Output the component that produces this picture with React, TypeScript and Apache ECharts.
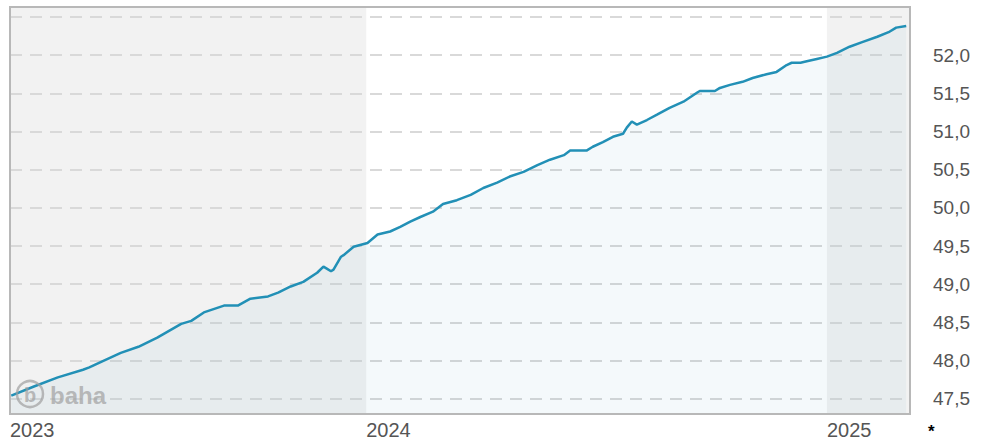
import React, { useEffect, useRef } from "react";
import * as echarts from "echarts";

const dates: string[] = [
  "2023-03-25", "2023-04-12", "2023-05-01", "2023-05-21", "2023-05-26", "2023-06-04",
  "2023-06-20", "2023-07-04", "2023-07-19", "2023-08-07", "2023-08-15", "2023-08-25",
  "2023-09-10", "2023-09-21", "2023-10-01", "2023-10-15", "2023-10-23", "2023-11-02",
  "2023-11-12", "2023-11-23", "2023-11-28", "2023-12-01", "2023-12-04", "2023-12-06",
  "2023-12-12", "2023-12-14", "2023-12-22", "2024-01-02", "2024-01-10", "2024-01-20",
  "2024-01-28", "2024-02-05", "2024-02-13", "2024-02-23", "2024-03-02", "2024-03-13",
  "2024-03-24", "2024-04-03", "2024-04-14", "2024-04-24", "2024-05-05", "2024-05-16",
  "2024-05-26", "2024-06-06", "2024-06-11", "2024-06-24", "2024-06-29", "2024-07-07",
  "2024-07-15", "2024-07-23", "2024-07-26", "2024-07-30", "2024-08-03", "2024-08-11",
  "2024-08-19", "2024-08-29", "2024-09-09", "2024-09-20", "2024-09-22", "2024-10-04",
  "2024-10-08", "2024-10-16", "2024-10-26", "2024-11-03", "2024-11-14", "2024-11-22",
  "2024-11-30", "2024-12-04", "2024-12-11", "2024-12-16", "2024-12-24", "2025-01-01",
  "2025-01-09", "2025-01-19", "2025-01-29", "2025-02-10", "2025-02-19", "2025-02-25",
  "2025-03-05",
];

const prices: number[] = [
  47.54, 47.66, 47.78, 47.88, 47.91, 47.98,
  48.10, 48.18, 48.30, 48.48, 48.52, 48.63,
  48.72, 48.72, 48.81, 48.84, 48.89, 48.97,
  49.03, 49.15, 49.23, 49.20, 49.17, 49.19,
  49.36, 49.38, 49.49, 49.54, 49.65, 49.69,
  49.75, 49.82, 49.88, 49.95, 50.05, 50.10,
  50.17, 50.26, 50.33, 50.41, 50.47, 50.56,
  50.63, 50.69, 50.75, 50.75, 50.80, 50.86,
  50.93, 50.97, 51.05, 51.13, 51.09, 51.15,
  51.22, 51.31, 51.39, 51.51, 51.53, 51.53,
  51.57, 51.61, 51.65, 51.70, 51.75, 51.78,
  51.87, 51.90, 51.90, 51.92, 51.95, 51.98,
  52.03, 52.11, 52.17, 52.24, 52.30, 52.36,
  52.38,
];

const xStart = "2023-03-24";
const xEnd = "2025-03-08";
const yearTicks: string[] = [xStart, "2024-01-01", "2025-01-01"];
const shadedBands: [string, string][] = [
  [xStart, "2024-01-01"],
  ["2025-01-01", xEnd],
];
const yMin = 47.3;
const yMax = 52.63;
const yStep = 0.5;
const yLabelMax = 52.0;

const ts = (d: string) => Date.parse(d + "T00:00:00Z");

export default function App() {
  const ref = useRef<HTMLDivElement>(null);

  useEffect(() => {
    if (!ref.current) return;
    const chart = echarts.init(ref.current, undefined, { renderer: "svg" });
    const seriesData = dates.map((d, i) => [ts(d), prices[i]]);
    chart.setOption({
      animation: false,
      backgroundColor: "#ffffff",
      grid: { left: 10, right: 82, top: 7, bottom: 27, show: false },
      xAxis: {
        type: "value",
        min: ts(xStart),
        max: ts(xEnd),
        z: 2,
        axisLine: { show: false },
        axisTick: { show: false },
        splitLine: { show: false },
        axisLabel: {
          customValues: yearTicks.map(ts),
          formatter: (v: number) => String(new Date(v + 86400000 * 10).getUTCFullYear()),
          align: "left",
          margin: 6,
          color: "#555555",
          fontSize: 20,
          fontFamily: "Liberation Sans, Arial, sans-serif",
          showMinLabel: true,
          showMaxLabel: true,
        },
      },
      yAxis: {
        type: "value",
        position: "right",
        min: yMin,
        max: yMax,
        minInterval: yStep,
        maxInterval: yStep,
        z: 2,
        axisLine: { show: false },
        axisTick: { show: false },
        splitLine: {
          show: true,
          lineStyle: { color: "#d9d9d9", width: 2, type: [12, 8] },
        },
        axisLabel: {
          margin: 23,
          color: "#555555",
          fontSize: 19,
          fontFamily: "Liberation Sans, Arial, sans-serif",
          showMinLabel: false,
          showMaxLabel: false,
          formatter: (v: number) =>
            v > yLabelMax + 1e-6 ? "" : v.toFixed(1).replace(".", ","),
        },
      },
      series: [
        {
          type: "line",
          z: 1,
          data: [],
          silent: true,
          markArea: {
            silent: true,
            itemStyle: { color: "#f2f2f2" },
            data: shadedBands.map(([a, b]) => [{ xAxis: ts(a) }, { xAxis: ts(b) }]),
          },
        },
        {
          type: "line",
          z: 4,
          data: seriesData,
          showSymbol: false,
          symbol: "none",
          lineStyle: { color: "#2290b6", width: 2.5 },
          areaStyle: { color: "rgba(30,130,170,0.07)" },
        },
      ],
      graphic: [
        {
          type: "rect",
          z: 100,
          silent: true,
          shape: { x: 10, y: 7, width: 900, height: 407 },
          style: { fill: "none", stroke: "#b8b8b8", lineWidth: 2 },
        },
        {
          type: "circle",
          z: 90,
          silent: true,
          shape: { cx: 30, cy: 394, r: 13 },
          style: { fill: "none", stroke: "rgba(160,160,160,0.7)", lineWidth: 2.5 },
        },
        {
          type: "text",
          z: 90,
          silent: true,
          x: 30,
          y: 395,
          style: {
            text: "b",
            fill: "rgba(160,160,160,0.7)",
            font: "bold 20px Liberation Sans, Arial, sans-serif",
            align: "center",
            verticalAlign: "middle",
          },
        },
        {
          type: "text",
          z: 90,
          silent: true,
          x: 50,
          y: 395,
          style: {
            text: "baha",
            fill: "rgba(160,160,160,0.7)",
            font: "bold 24px Liberation Sans, Arial, sans-serif",
            align: "left",
            verticalAlign: "middle",
          },
        },
        {
          type: "text",
          z: 90,
          silent: true,
          x: 928,
          y: 431,
          style: {
            text: "*",
            fill: "#000000",
            font: "bold 17px Liberation Sans, Arial, sans-serif",
            align: "left",
            verticalAlign: "middle",
          },
        },
      ],
    });
    return () => chart.dispose();
  }, []);

  return (
    <div
      ref={ref}
      style={{ position: "fixed", left: 0, top: 0, width: 992, height: 441 }}
    />
  );
}
